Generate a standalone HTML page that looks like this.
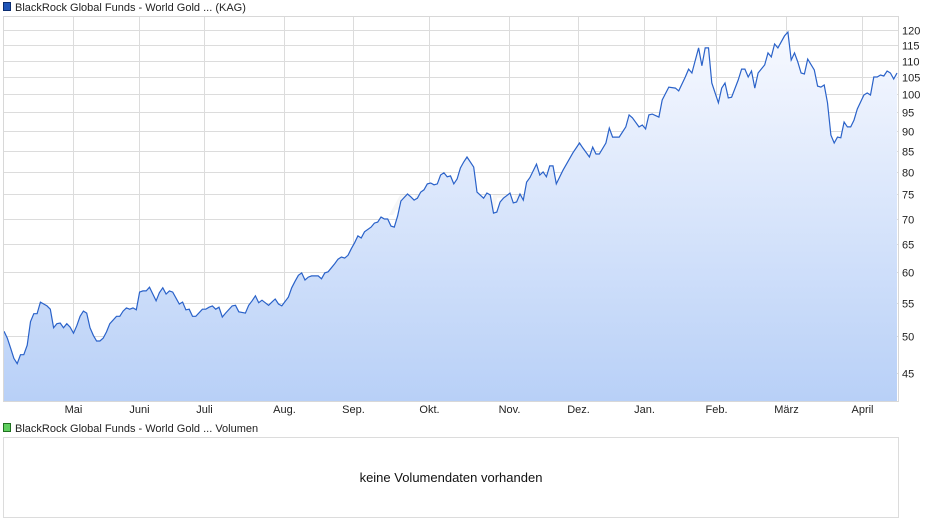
<!DOCTYPE html>
<html><head><meta charset="utf-8"><style>
body{margin:0;background:#fff;width:940px;height:526px;overflow:hidden;font-family:"Liberation Sans",sans-serif}
svg{display:block}
</style></head><body>
<svg id="chart" width="940" height="526" font-family="Liberation Sans, sans-serif">
<defs><linearGradient id="fillg" x1="0" y1="0" x2="0" y2="1">
<stop offset="0" stop-color="#f7f9ff"/><stop offset="1" stop-color="#b8d0f7"/></linearGradient></defs>
<g>
<rect x="3.5" y="2.5" width="7" height="8" fill="#1f55b8" stroke="#0b2c70"/>
<text x="15" y="11" font-size="11" fill="#222">BlackRock Global Funds - World Gold ... (KAG)</text>
</g>
<g id="grid"></g>
<text x="460" y="215" font-size="30" font-style="italic" font-weight="bold" fill="#000" fill-opacity="0.035" text-anchor="middle">ARIVA.DE</text>
<path id="area" fill="url(#fillg)"/>
<path id="line" fill="none" stroke="#2a62c9" stroke-width="1.2"/>
<rect x="3.5" y="16.5" width="895" height="385" fill="none" stroke="#d8d8d8"/>
<g id="ylabels"></g>
<g id="xlabels"></g>
<g>
<rect x="3.5" y="423.5" width="7" height="8" fill="#5fcf5f" stroke="#207020"/>
<text x="15" y="432" font-size="11" fill="#222">BlackRock Global Funds - World Gold ... Volumen</text>
</g>
<rect x="3.5" y="437.5" width="895" height="80" fill="#fff" stroke="#dcdcdc"/>
<text x="451" y="482" font-size="13" fill="#111" text-anchor="middle">keine Volumendaten vorhanden</text>
</svg>
<script>
const days=[0,1,2,3,4,5,6,7,8,9,10,11,13,14,15,16,17,18,19,20,21,22,23,24,25,26,27,28,29,30,31,32,34,35,36,37,38,39,40,41,42,43,44,45,46,47,48,49,50,51,53,54,55,56,57,58,60,61,62,63,64,65,66,67,69,70,71,73,74,75,76,77,78,80,81,82,83,84,86,87,88,89,90,91,92,93,94,95,96,97,98,100,101,102,103,104,105,106,107,108,109,111,112,113,114,115,116,117,118,119,120,122,123,124,125,126,127,128,129,130,131,132,133,134,135,136,137,138,139,140,142,143,145,146,147,148,149,150,151,153,154,155,156,157,158,159,161,162,163,164,165,166,167,169,172,174,175,177,178,179,180,182,183,184,186,188,189,190,192,193,194,195,196,198,199,201,203,204,206,207,208,210,211,212,213,214,216,217,218,219,220,222,223,224,225,226,227,228,230,231,232,233,234,236,237,238,239,240,241,242,243,245,246,247,248,249,250,251,252,253,254,255,256,257,258,260,261,262,263,264,265,266,267,268,269,270];
const prices=[50.7,49.7,48.3,46.9,46.2,47.4,47.4,48.7,52.1,53.3,53.3,55.1,54.5,54.0,51.2,51.8,51.9,51.2,51.8,51.3,50.4,51.5,52.9,53.7,53.4,51.2,50.1,49.3,49.3,49.7,50.6,51.8,52.9,52.9,53.7,54.2,54.0,54.2,53.9,56.7,56.9,56.9,57.5,56.4,55.3,56.6,57.4,56.4,56.9,56.7,54.8,55.1,53.9,54.0,52.9,52.9,54.0,54.0,54.3,54.5,54.0,54.3,52.8,53.4,54.5,54.6,53.6,53.4,54.6,55.3,56.1,55.0,55.4,54.6,55.1,55.6,54.8,54.5,55.9,57.4,58.5,59.5,59.9,58.7,59.2,59.4,59.4,59.4,58.9,59.9,60.1,61.5,62.3,62.7,62.5,63.0,64.2,65.3,66.6,66.2,67.4,68.3,69.1,69.3,70.3,69.9,69.9,68.5,68.3,70.5,73.6,75.1,74.5,73.8,74.2,75.5,76.0,77.3,77.5,77.1,77.3,79.3,79.8,78.9,79.1,77.3,78.4,80.9,82.3,83.5,81.1,75.5,74.2,75.3,74.9,71.1,71.3,73.4,74.2,75.3,73.2,73.4,75.1,73.8,77.7,78.7,81.8,79.3,80.0,78.9,81.4,81.4,77.3,80.4,84.5,86.9,85.7,83.5,85.9,84.2,84.2,86.9,90.7,88.4,88.4,91.0,94.2,93.4,91.0,91.5,90.5,94.2,94.4,93.6,98.3,102.0,101.7,100.9,105.0,107.4,106.2,114.1,108.4,114.1,114.1,103.2,97.5,101.7,103.2,98.9,99.1,104.1,107.4,107.4,105.0,106.8,101.7,106.2,108.7,112.5,111.2,115.4,114.1,118.1,119.4,110.2,112.5,109.6,106.2,105.9,110.5,107.1,102.3,102.0,102.6,97.5,88.9,86.9,88.4,88.2,92.3,91.0,91.0,92.8,95.8,99.7,100.3,99.7,105.0,105.0,105.6,105.3,106.8,106.2,104.4,106.2];
const yTicks=[45,50,55,60,65,70,75,80,85,90,95,100,105,110,115,120];
const monthLabels=["Mai","Juni","Juli","Aug.","Sep.","Okt.","Nov.","Dez.","Jan.","Feb.","März","April"];
const monthDays=[20.9,40.8,60.5,84.7,105.5,128.5,152.7,173.6,193.5,215.3,236.5,259.4];

const X0=4,X1=897,T=16,B=401;
const maxDay=270;
function xs(d){return X0+d*(X1-X0)/maxDay;}
function ys(v){return 94-804*Math.log10(v/100);}
const NS="http://www.w3.org/2000/svg";
const grid=document.getElementById('grid'),yl=document.getElementById('ylabels'),xl=document.getElementById('xlabels');
yTicks.forEach(v=>{
  const y=Math.round(ys(v))+0.5;
  const l=document.createElementNS(NS,'line');
  l.setAttribute('x1',3);l.setAttribute('x2',898);l.setAttribute('y1',y);l.setAttribute('y2',y);
  l.setAttribute('stroke','#dcdcdc');
  
  
  grid.appendChild(l);
  const t=document.createElementNS(NS,'text');
  t.setAttribute('x',902);t.setAttribute('y',y+4);t.setAttribute('font-size','11');t.setAttribute('fill','#222');
  t.textContent=v;
  
  
  yl.appendChild(t);
});
monthDays.forEach((d,i)=>{
  const x=Math.round(xs(d))+0.5;
  const l=document.createElementNS(NS,'line');
  l.setAttribute('x1',x);l.setAttribute('x2',x);l.setAttribute('y1',T);l.setAttribute('y2',B);
  l.setAttribute('stroke','#dcdcdc');
  
  
  grid.appendChild(l);
  const t=document.createElementNS(NS,'text');
  t.setAttribute('x',x);t.setAttribute('y',413);t.setAttribute('font-size','11');t.setAttribute('fill','#222');
  t.setAttribute('text-anchor','middle');
  t.textContent=monthLabels[i];
  
  
  xl.appendChild(t);
});
let d='';
days.forEach((dd,i)=>{d+=(i?'L':'M')+xs(dd).toFixed(1)+','+ys(prices[i]).toFixed(1);});
document.getElementById('line').setAttribute('d',d);
document.getElementById('area').setAttribute('d',d+'L'+xs(days[days.length-1]).toFixed(1)+','+B+'L'+xs(days[0]).toFixed(1)+','+B+'Z');
</script>
</body></html>
